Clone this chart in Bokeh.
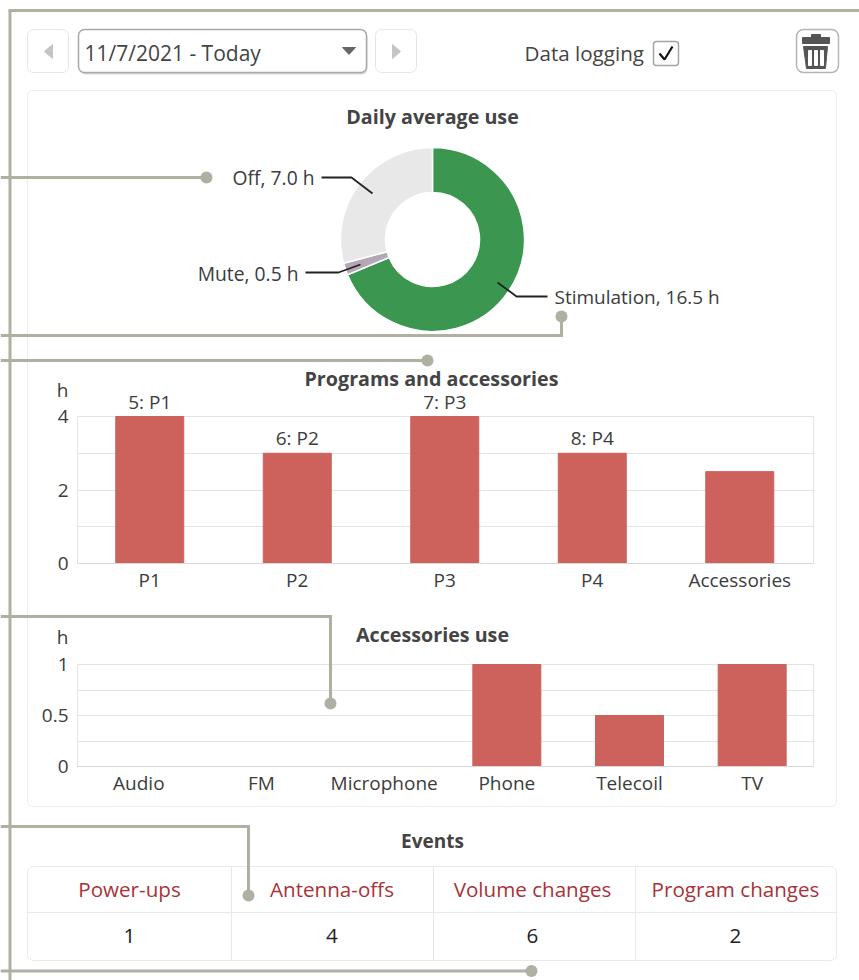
from math import pi
from bokeh.plotting import figure
from bokeh.models import BoxAnnotation, Range1d, FixedTicker, LinearAxis, Grid
from bokeh.core.properties import value
from bokeh.embed import file_html
from bokeh.resources import INLINE

use_names = ["Stimulation", "Mute", "Off"]
use_hours = [16.5, 0.5, 7.0]
use_colors = ["#3b9750", "#b5a8b6", "#e8e8e8"]

prog_cats = ["P1", "P2", "P3", "P4", "Accessories"]
prog_vals = [4, 3, 4, 3, 2.5]
prog_tags = ["5: P1", "6: P2", "7: P3", "8: P4", ""]
prog_major = [0, 2, 4]
prog_minor = [1, 3]

acc_cats = ["Audio", "FM", "Microphone", "Phone", "Telecoil", "TV"]
acc_vals = [0, 0, 0, 1, 0.5, 1]
acc_major = [0, 0.5, 1]
acc_minor = [0.25, 0.75]

event_names = ["Power-ups", "Antenna-offs", "Volume changes", "Program changes"]
event_vals = [1, 4, 6, 2]

FONT = "Open Sans"
CALL = "#b0b0a2"
TXT = "#3c3c3c"
HEAD = "#444444"
BAR = "#cd615c"
GRID = "#e3e3e3"
CARD = "#eeeeee"
W, H = 859, 980

p = figure(width=W, height=H, x_range=Range1d(0, W), y_range=Range1d(H, 0),
           x_axis_location=None, y_axis_location=None, toolbar_location=None,
           output_backend="svg", min_border=0, outline_line_color=None)
p.grid.visible = False


def box(l, r, t, b, fill="#ffffff", line=None, radius=0, lw=1):
    p.add_layout(BoxAnnotation(left=l, right=r, top=t, bottom=b,
                               left_units="canvas", right_units="canvas", top_units="canvas",
                               bottom_units="canvas", fill_color=fill, fill_alpha=1 if fill else 0,
                               line_color=line, line_alpha=1 if line else 0, line_width=lw,
                               border_radius=radius, level="underlay", editable=False))


def label(x, y, text, size=19, color=TXT, align="center", bold=False):
    p.text([x], [y - 1], text=[text], text_font=value(FONT), text_font_size=f"{size}px",
           text_color=color, text_align=align, text_baseline="middle",
           text_font_style="bold" if bold else "normal")


def callout(xs, ys):
    p.line(xs, ys, line_color=CALL, line_width=3, line_join="miter")
    p.scatter([xs[-1]], [ys[-1]], size=12, marker="circle", fill_color=CALL, line_color=None)


# ---------- header ----------
box(27, 68, 29, 72, line="#e6e6e6", radius=6)
box(375, 416, 29, 72, line="#e6e6e6", radius=6)
box(79, 367, 31, 74, fill="#d5d5d5", radius=6)
box(78, 366, 29, 72, line="#a8a8a8", radius=6, lw=1.5)
box(796, 838, 29, 72, line="#b5b5b5", radius=7, lw=1.5)
box(653, 678, 41, 65, line="#a5a5a5", radius=3, lw=1.5)
box(27, 836, 90, 806, line=CARD, radius=5)
box(27, 836, 866, 960, line="#e8e8e8", radius=6)

p.patch([52, 52, 44], [44, 58, 51], color="#c4c4c4")
p.patch([392, 392, 400], [44, 58, 51], color="#c4c4c4")
p.patch([342, 355, 348.5], [47, 47, 54], color="#666666")
p.line([659, 664, 672], [53, 59, 46], line_color="#111111", line_width=2.2)
p.quad(left=[802, 811], right=[829, 820], top=[43, 37], bottom=[37, 34], color="#555555")
p.patch([803, 827, 825, 806], [46, 46, 68, 68], color="#555555")
p.quad(left=[808, 814, 820], right=[811, 817, 823], top=[65, 65, 65], bottom=[50, 50, 50], color="#ffffff")

label(84, 53, "11/7/2021 - Today", 21, HEAD, "left")
label(524, 53, "Data logging", 20.6, HEAD, "left")
label(432, 117, "Daily average use", 19.7, HEAD, bold=True)

# ---------- donut ----------
total = sum(use_hours)
ends, starts, acc = [], [], 0.0
for h in use_hours:
    starts.append(pi / 2 - 2 * pi * acc / total)
    acc += h
    ends.append(pi / 2 - 2 * pi * acc / total)
p.annular_wedge(x=432, y=239, inner_radius=47, outer_radius=92, inner_radius_units="screen",
                outer_radius_units="screen", start_angle=ends, end_angle=starts,
                direction="anticlock", fill_color=use_colors, line_color="#ffffff", line_width=1.5)
p.line([321, 351, 372], [177, 177, 193], line_color="#222222", line_width=1.8)
p.line([305, 338, 360], [272, 272, 264], line_color="#222222", line_width=1.8)
p.line([497, 516, 547], [282, 296, 296], line_color="#222222", line_width=1.8)
label(314, 178, f"{use_names[2]}, {use_hours[2]:.1f} h", 19.3, TXT, "right")
label(298, 274, f"{use_names[1]}, {use_hours[1]:.1f} h", 19.3, TXT, "right")
label(554, 297, f"{use_names[0]}, {use_hours[0]:.1f} h", 19, TXT, "left")


# ---------- bar charts ----------
def bar_chart(name, cats, vals, ymax, major, minor, tlabels, bar_px, ftop, fbot, fleft, fright, cat_left):
    n = len(cats)
    idx = list(range(n))
    xs = (fright - cat_left) / n
    ys = (fbot - ftop) / ymax
    p.extra_x_ranges[name] = Range1d((0 - cat_left) / xs - 0.5, (W - cat_left) / xs - 0.5)
    p.extra_y_ranges[name] = Range1d((fbot - H) / ys, fbot / ys)
    p.add_layout(Grid(dimension=1, ticker=FixedTicker(ticks=major, minor_ticks=minor),
                      y_range_name=name, cross_bounds=(fleft, fright),
                      grid_line_color=GRID, minor_grid_line_color=GRID))
    p.segment([fleft, fright], [ftop, ftop], [fleft, fright], [fbot, fbot], line_color=GRID)
    p.vbar(x=idx, top=vals, width=bar_px / xs, fill_color=BAR, line_color=BAR,
           x_range_name=name, y_range_name=name)
    xa = LinearAxis(x_range_name=name, y_range_name=name, fixed_location=0,
                    bounds=((fleft - cat_left) / xs - 0.5, (fright - cat_left) / xs - 0.5),
                    ticker=FixedTicker(ticks=idx), major_label_overrides=dict(zip(idx, cats)),
                    major_tick_line_color=None, minor_tick_line_color=None,
                    axis_line_color="#d8d8d8", major_label_standoff=-3,
                    major_label_text_font=FONT, major_label_text_font_size="19px",
                    major_label_text_color=TXT)
    ya = LinearAxis(x_range_name=name, y_range_name=name,
                    fixed_location=(fleft - cat_left) / xs - 0.5, bounds=(0, ymax),
                    ticker=FixedTicker(ticks=major), major_label_overrides=tlabels,
                    major_tick_line_color=None, minor_tick_line_color=None,
                    axis_line_color=None, major_label_standoff=3,
                    major_label_text_font=FONT, major_label_text_font_size="19px",
                    major_label_text_color=TXT)
    p.add_layout(xa, "below")
    p.add_layout(ya, "left")
    return idx


i2 = bar_chart("prog", prog_cats, prog_vals, 4, prog_major, prog_minor, {0: "0", 2: "2", 4: "4"},
               68, 416, 563, 77, 813, 75.5)
p.text(x=i2, y=prog_vals, text=prog_tags, x_range_name="prog", y_range_name="prog",
       text_align="center", text_baseline="bottom", y_offset=-2, text_font=value(FONT),
       text_font_size="19px", text_color=TXT)
label(431, 379, "Programs and accessories", 19.7, HEAD, bold=True)
label(62, 390, "h", 19, TXT)

bar_chart("acc", acc_cats, acc_vals, 1, acc_major, acc_minor, {0: "0", 0.5: "0.5", 1: "1"},
          68, 664, 766, 77, 813, 77)
label(432, 635, "Accessories use", 19.7, HEAD, bold=True)
label(62, 637, "h", 19, TXT)

# ---------- events ----------
label(432, 841, "Events", 19, HEAD, bold=True)
col_edges = [231, 433, 635]
p.segment(col_edges, [866] * 3, col_edges, [960] * 3, line_color="#e8e8e8")
p.segment([27], [912], [836], [912], line_color="#e8e8e8")
col_centers = [129, 331.5, 532, 735]
for cx, n, v in zip(col_centers, event_names, event_vals):
    label(cx, 889, n, 20.6, "#a93239")
    label(cx, 936, str(v), 20.6, "#222222")

# ---------- callouts ----------
p.line([9.5, 9.5], [10, H], line_color=CALL, line_width=3)
p.line([8, W], [10, 10], line_color=CALL, line_width=3)
callout([0, 206], [177, 177])
callout([0, 561, 561], [335, 335, 316])
callout([0, 427], [360, 360])
callout([0, 330, 330], [616, 616, 703])
callout([0, 248, 248], [826, 826, 895])
callout([0, 531], [970.5, 970.5])

open("out.html", "w").write(file_html(p, INLINE))
